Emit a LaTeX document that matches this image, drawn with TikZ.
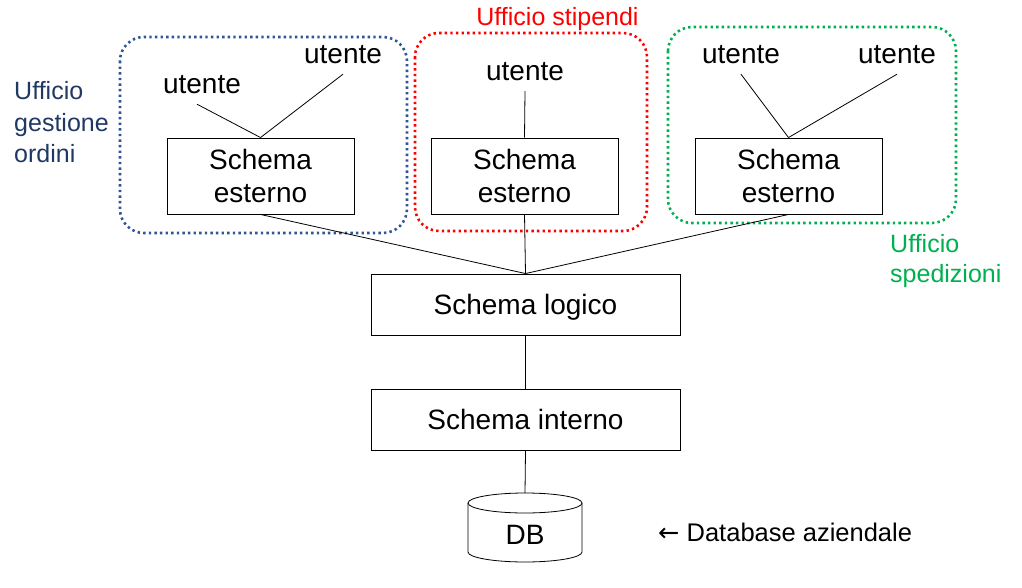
\documentclass[tikz,border=0pt]{standalone}
\usepackage{fontspec}
\setmainfont{Liberation Sans}
\newfontfamily\arrowfont{DejaVu Sans}
\definecolor{udots}{HTML}{2F5597}
\definecolor{ublue}{HTML}{1F3864}
\definecolor{ured}{HTML}{FF0000}
\definecolor{ugreen}{HTML}{00B050}
\begin{document}
\begin{tikzpicture}[x=1pt,y=-1pt,
  box/.style={draw,line width=0.9pt,inner sep=0pt,align=center,font=\fontsize{28}{33}\selectfont},
  user/.style={inner xsep=0pt,inner ysep=10pt,text height=20pt,text depth=0pt,font=\fontsize{28}{33}\selectfont},
  conn/.style={line width=0.8pt},
  office/.style={line width=2.6pt,dash pattern=on 2.4pt off 3.2pt,rounded corners=24pt},
  lbl/.style={inner sep=0pt,align=left,font=\fontsize{25}{31.5}\selectfont}]
\useasboundingbox (0,0) rectangle (1022,588);
% office boxes
\draw[office,color=udots] (120,37) rectangle (407,233);
\draw[office,color=ured] (415,33) rectangle (647,231);
\draw[office,color=ugreen] (668,27) rectangle (956,223);
% schema esterno
\node[box,minimum width=187pt,minimum height=76pt] (e1) at (260.5,176) {Schema\\esterno};
\node[box,minimum width=187pt,minimum height=76pt] (e2) at (524.5,176) {Schema\\esterno};
\node[box,minimum width=187pt,minimum height=76pt] (e3) at (788.5,176) {Schema\\esterno};
% utenti
\node[user,anchor=base] (u1) at (202,94) {utente};
\node[user,anchor=base] (u2) at (343,64) {utente};
\node[user,anchor=base] (u3) at (525,81) {utente};
\node[user,anchor=base] (u4) at (741,64) {utente};
\node[user,anchor=base] (u5) at (897,64) {utente};
% logico / interno
\node[box,minimum width=309pt,minimum height=61pt,text height=20pt,text depth=0pt] (lo) at (525.5,304.5) {Schema logico};
\node[box,minimum width=309pt,minimum height=61pt,text height=20pt,text depth=0pt] (in) at (525.5,419.5) {Schema interno};
% DB cylinder
\coordinate (dbtop) at (525,493);
\draw[line width=0.8pt] (525,503) ellipse [x radius=57pt, y radius=10pt];
\draw[line width=0.8pt] (468,503) -- (468,552) arc[start angle=180,end angle=360,x radius=57pt,y radius=10pt] -- (582,503);
\node[inner sep=0pt,anchor=base,font=\fontsize{28}{33}\selectfont] (db) at (525,544) {DB};
% connectors
\draw[conn] ([xshift=-5pt]u1.south) -- (e1.north);
\draw[conn] (u2.south) -- (e1.north);
\draw[conn] (u3.south) -- (e2.north);
\draw[conn] (u4.south) -- (e3.north);
\draw[conn] (u5.south) -- (e3.north);
\draw[conn] (e1.south) -- (lo.north);
\draw[conn] (e2.south) -- (lo.north);
\draw[conn] (e3.south) -- (lo.north);
\draw[conn] (lo.south) -- (in.north);
\draw[conn] (in.south) -- (dbtop);
% labels
\node[lbl,anchor=west,text=ublue] (l1) at (14,122.4) {Ufficio\\gestione\\ordini};
\node[lbl,anchor=base,text=ured] (l2) at (557.5,26) {Ufficio stipendi};
\node[lbl,anchor=west,text=ugreen,font=\fontsize{25}{30}\selectfont] (l3) at (890,261.5) {Ufficio\\spedizioni};
\node[inner sep=0pt,anchor=base west,font=\fontsize{25.5}{30}\selectfont] (dbl) at (658,541) {{\arrowfont ←} Database aziendale};
\end{tikzpicture}
\end{document}
